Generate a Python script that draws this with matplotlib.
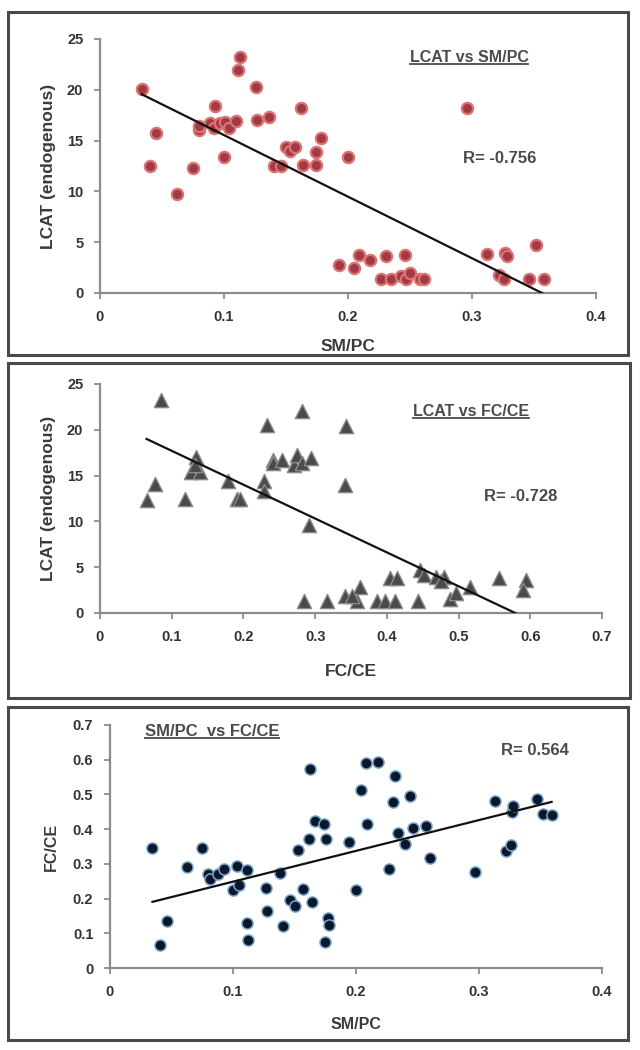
import matplotlib
matplotlib.use("Agg")
import matplotlib.pyplot as plt
import numpy as np
from matplotlib.patches import Rectangle
from matplotlib.lines import Line2D

plt.rcParams['font.family'] = ['Liberation Sans', 'DejaVu Sans']
plt.rcParams['font.weight'] = 'bold'

# panel 1: LCAT vs SM/PC
smpc_1 = [0.0335, 0.040, 0.045, 0.062, 0.075, 0.080, 0.080, 0.093, 0.089, 0.092,
          0.097, 0.101, 0.104, 0.110, 0.100, 0.113, 0.111, 0.126, 0.127, 0.136,
          0.140, 0.146, 0.150, 0.153, 0.157, 0.162, 0.164, 0.174, 0.174, 0.178,
          0.200, 0.296, 0.193, 0.205, 0.209, 0.218, 0.231, 0.227, 0.235, 0.243,
          0.246, 0.247, 0.250, 0.258, 0.261, 0.312, 0.322, 0.326, 0.327, 0.328,
          0.346, 0.352, 0.358]
lcat_1 = [20.1, 12.5, 15.7, 9.7, 12.3, 16.0, 16.4, 18.4, 16.7, 16.2,
          16.7, 16.8, 16.2, 16.9, 13.4, 23.2, 21.9, 20.3, 17.0, 17.3,
          12.5, 12.5, 14.4, 14.0, 14.4, 18.2, 12.6, 13.9, 12.6, 15.3,
          13.4, 18.2, 2.8, 2.5, 3.7, 3.2, 3.6, 1.4, 1.4, 1.7,
          3.7, 1.4, 2.0, 1.4, 1.4, 3.8, 1.8, 1.4, 3.9, 3.6,
          1.4, 4.7, 1.4]
fit_1 = (-60.6, 21.6)   # slope, intercept

# panel 2: LCAT vs FC/CE
fcce_2 = [0.065, 0.077, 0.085, 0.119, 0.134, 0.127, 0.140, 0.132, 0.178, 0.191,
          0.195, 0.229, 0.228, 0.233, 0.241, 0.241, 0.254, 0.271, 0.281, 0.275,
          0.281, 0.294, 0.292, 0.343, 0.342, 0.285, 0.316, 0.341, 0.358, 0.362,
          0.351, 0.386, 0.398, 0.404, 0.414, 0.411, 0.443, 0.446, 0.452, 0.468,
          0.480, 0.488, 0.496, 0.516, 0.556, 0.594, 0.590, 0.475]
lcat_2 = [12.35, 14.1, 23.3, 12.5, 17.0, 15.4, 15.4, 16.2, 14.4, 12.5,
          12.5, 14.4, 13.3, 20.5, 16.7, 16.4, 16.7, 16.2, 22.1, 17.3,
          16.4, 16.9, 9.6, 20.4, 14.0, 1.3, 1.3, 1.9, 1.3, 2.8,
          1.9, 1.3, 1.3, 3.8, 3.8, 1.3, 1.3, 4.7, 4.2, 3.9,
          3.9, 1.5, 2.2, 2.8, 3.8, 3.6, 2.5, 3.5]
fit_2 = (-36.96, 21.4)

# panel 3: FC/CE vs SM/PC
smpc_3 = [0.0345, 0.041, 0.046, 0.063, 0.075, 0.080, 0.081, 0.088, 0.093, 0.103,
          0.100, 0.105, 0.111, 0.111, 0.112, 0.127, 0.128, 0.138, 0.141, 0.146,
          0.150, 0.153, 0.157, 0.162, 0.163, 0.164, 0.167, 0.174, 0.176, 0.177,
          0.178, 0.175, 0.194, 0.200, 0.204, 0.208, 0.209, 0.218, 0.227, 0.230,
          0.232, 0.234, 0.240, 0.244, 0.246, 0.257, 0.260, 0.297, 0.313, 0.322,
          0.326, 0.327, 0.328, 0.347, 0.352, 0.359]
fcce_3 = [0.345, 0.065, 0.135, 0.290, 0.345, 0.271, 0.257, 0.271, 0.284, 0.293,
          0.226, 0.240, 0.281, 0.130, 0.081, 0.231, 0.164, 0.273, 0.121, 0.197,
          0.178, 0.341, 0.229, 0.373, 0.574, 0.190, 0.424, 0.414, 0.373, 0.143,
          0.124, 0.076, 0.362, 0.226, 0.514, 0.590, 0.414, 0.593, 0.284, 0.479,
          0.554, 0.389, 0.357, 0.495, 0.402, 0.410, 0.316, 0.276, 0.481, 0.338,
          0.355, 0.450, 0.467, 0.486, 0.445, 0.441]
fit_3 = (0.887, 0.160)

W, H = 640, 1050
fig = plt.figure(figsize=(6.4, 10.5), dpi=100)
fig.patch.set_facecolor('white')


def px_axes(x0, ytop, x1, ybot):
    return [x0 / W, 1 - ybot / H, (x1 - x0) / W, (ybot - ytop) / H]


def frame(x0, ytop, x1, ybot):
    r = Rectangle((x0 / W, 1 - ybot / H), (x1 - x0) / W, (ybot - ytop) / H,
                  transform=fig.transFigure, fill=False, edgecolor='#4a4a4a', lw=2.2)
    fig.add_artist(r)


def style(ax, xmax, xstep, ymax, ystep):
    for s in ['top', 'right']:
        ax.spines[s].set_visible(False)
    for s in ['left', 'bottom']:
        ax.spines[s].set_color('#8c8c8c')
        ax.spines[s].set_linewidth(1.6)
    ax.set_xlim(0, xmax)
    ax.set_ylim(0, ymax)
    xt = np.round(np.arange(0, xmax + xstep / 2, xstep), 3)
    yt = np.round(np.arange(0, ymax + ystep / 2, ystep), 3)
    ax.set_xticks(xt)
    ax.set_yticks(yt)
    ax.set_xticklabels([fmt(v) for v in xt])
    ax.set_yticklabels([fmt(v) for v in yt])
    ax.tick_params(direction='out', length=4, width=1.3, color='#8c8c8c',
                   labelsize=10.5, labelcolor='#333333', pad=8)
    for lab in ax.get_xticklabels() + ax.get_yticklabels():
        lab.set_fontweight('bold')
    ax.set_facecolor('none')


def fmt(v):
    return '0' if v == 0 else ('%g' % v)


def underlined(ax, x, y, s, size):
    t = ax.text(x, y, s, transform=ax.transAxes, ha='center', va='center',
                fontsize=size, fontweight='bold', color='#4a4a4a')
    fig.canvas.draw()
    bb = t.get_window_extent()
    inv = fig.transFigure.inverted()
    (a, b), (c, _) = inv.transform([(bb.x0, bb.y0 + 1), (bb.x1, bb.y0 + 1)])
    fig.add_artist(Line2D([a, c], [b, b], transform=fig.transFigure,
                          color='#4a4a4a', lw=1.3))


def trend(ax, xs, fit):
    xx = np.array([min(xs), max(xs)])
    ax.plot(xx, fit[0] * xx + fit[1], color='#111111', lw=1.6, zorder=3)


# frames around each panel
frame(8, 12, 628, 355)
frame(8, 363, 630, 698)
frame(8, 707, 628, 1040)

# ---- panel 1
ax1 = fig.add_axes(px_axes(100, 39, 596, 293))
style(ax1, 0.4, 0.1, 25, 5)
ax1.scatter(smpc_1, lcat_1, s=66, c='#a03a45', edgecolors='#dc7272', linewidths=1.6, zorder=2)
trend(ax1, smpc_1, fit_1)
ax1.set_xlabel('SM/PC', fontsize=12.5, fontweight='bold', color='#3a3a3a', labelpad=11)
ax1.set_ylabel('LCAT (endogenous)', fontsize=12.5, fontweight='bold', color='#3a3a3a', labelpad=8)
ax1.text(0.806, 0.531, 'R= -0.756', transform=ax1.transAxes, ha='center', va='center',
         fontsize=12, fontweight='bold', color='#4a4a4a')
underlined(ax1, 0.744, 0.929, 'LCAT vs SM/PC', 11.5)

# ---- panel 2
ax2 = fig.add_axes(px_axes(100, 384, 602, 613))
style(ax2, 0.7, 0.1, 25, 5)
ax2.scatter(fcce_2, lcat_2, s=105, marker='^', c='#4a4a4a', edgecolors='#8a8a8a', linewidths=1.0, zorder=2)
trend(ax2, fcce_2, fit_2)
ax2.set_xlabel('FC/CE', fontsize=12.5, fontweight='bold', color='#3a3a3a', labelpad=15)
ax2.set_ylabel('LCAT (endogenous)', fontsize=12.5, fontweight='bold', color='#3a3a3a', labelpad=8)
ax2.text(0.839, 0.507, 'R= -0.728', transform=ax2.transAxes, ha='center', va='center',
         fontsize=12, fontweight='bold', color='#4a4a4a')
underlined(ax2, 0.739, 0.878, 'LCAT vs FC/CE', 11.5)

# ---- panel 3
ax3 = fig.add_axes(px_axes(110, 725, 602, 968))
style(ax3, 0.4, 0.1, 0.7, 0.1)
ax3.scatter(smpc_3, fcce_3, s=64, c='#0b1829', edgecolors='#7aa6cc', linewidths=1.1, zorder=2)
trend(ax3, smpc_3, fit_3)
ax3.set_xlabel('SM/PC', fontsize=11.5, fontweight='bold', color='#3a3a3a', labelpad=13)
ax3.set_ylabel('FC/CE', fontsize=11.5, fontweight='bold', color='#3a3a3a', labelpad=10)
ax3.text(0.864, 0.897, 'R= 0.564', transform=ax3.transAxes, ha='center', va='center',
         fontsize=12, fontweight='bold', color='#4a4a4a')
underlined(ax3, 0.207, 0.975, 'SM/PC  vs FC/CE', 12)

fig.savefig('out.png', dpi=100)
